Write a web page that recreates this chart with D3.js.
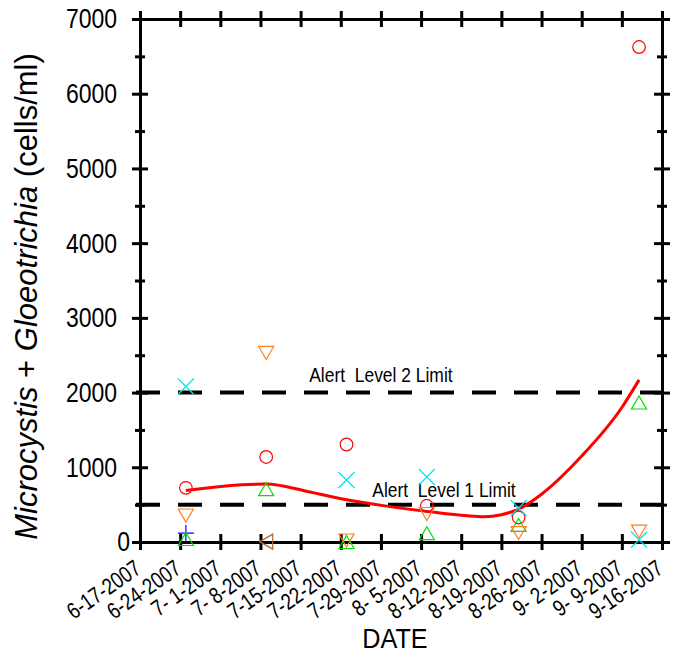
<!DOCTYPE html>
<html>
<head>
<meta charset="utf-8">
<script src="https://cdn.jsdelivr.net/npm/d3@7"></script>
<style>
  body { margin: 0; background: #fff; }
  text { font-family: "Liberation Sans", Arial, sans-serif; fill: #000; }
</style>
</head>
<body>
<div id="chart"></div>
<script>
// sampling dates
var sampleDates = ["2007-06-25", "2007-07-09", "2007-07-23", "2007-08-06", "2007-08-22", "2007-09-12"];

// one array per symbol (cells/ml), null = no point
var circleVals  = [725, 1138, 1305, 485, 328, 6625];
var triUpVals   = [40, 707, 0, 118, 228, 1867];
var triDownVals = [355, 2530, 20, 375, 120, 140];
var crossVals   = [2081, null, 830, 870, 455, 30];
var plusVals    = [120, null, null, null, null, null];
var triLeftVals = [null, 5, null, null, null, null];

// smoothed trend (red line)
var fitDates = ["2007-06-25", "2007-07-02", "2007-07-09", "2007-07-16", "2007-07-23", "2007-07-30",
                "2007-08-06", "2007-08-13", "2007-08-16", "2007-08-19", "2007-08-22", "2007-08-26",
                "2007-09-02", "2007-09-09", "2007-09-12"];
var fitVals  = [690, 750, 775, 680, 565, 480, 410, 350, 338, 365, 440, 640, 1150, 1800, 2170];

// alert limits
var alertLimits = [2000, 500];
var alertLabels = ["Alert  Level 2 Limit", "Alert  Level 1 Limit"];
var alertLabelDates = ["2007-07-29", "2007-08-09"];

// axis ticks
var xTickLabels = ["6-17-2007", "6-24-2007", "7- 1-2007", "7- 8-2007", "7-15-2007", "7-22-2007", "7-29-2007",
                   "8- 5-2007", "8-12-2007", "8-19-2007", "8-26-2007", "9- 2-2007", "9- 9-2007", "9-16-2007"];
var yTicks = [0, 1000, 2000, 3000, 4000, 5000, 6000, 7000];
var yMinorTicks = [500, 1500, 2500, 3500, 4500, 5500, 6500];

var parseDate = d3.timeParse("%Y-%m-%d");
var parseTick = d3.timeParse("%m-%d-%Y");
var tickDates = xTickLabels.map(function(s) { return parseTick(s.replace(/ /g, "")); });

var W = 686, H = 658;
var margin = {top: 19, right: 24, bottom: 116, left: 140};
var width = W - margin.left - margin.right,
    height = H - margin.top - margin.bottom;

var svg = d3.select("#chart").append("svg")
    .attr("width", W).attr("height", H);
var g = svg.append("g")
    .attr("transform", "translate(" + margin.left + "," + margin.top + ")");

var x = d3.scaleTime()
    .domain([tickDates[0], tickDates[tickDates.length - 1]])
    .range([0, width]);
var y = d3.scaleLinear()
    .domain([0, 7000])
    .range([height, 0]);

// squeeze text horizontally (original used a narrow face)
function squeeze(sel, k) {
  sel.each(function() {
    var L = this.getComputedTextLength();
    d3.select(this).attr("textLength", L * k).attr("lengthAdjust", "spacingAndGlyphs");
  });
}

function styleAxis(ax, a, b, horiz) {
  ax.select(".domain").attr("stroke", "#000").attr("stroke-width", 3);
  ax.selectAll(".tick line").attr("stroke", "#000").attr("stroke-width", 3);
  if (horiz) ax.selectAll(".tick line").attr("y1", a).attr("y2", b);
  else ax.selectAll(".tick line").attr("x1", a).attr("x2", b);
}

// alert limit lines
alertLimits.forEach(function(v, i) {
  g.append("line")
    .attr("x1", x.range()[0] - 4).attr("x2", x.range()[1])
    .attr("y1", y(v)).attr("y2", y(v))
    .attr("stroke", "#000").attr("stroke-width", 4)
    .attr("stroke-dasharray", "24 18");
  var t = g.append("text")
    .attr("x", x(parseDate(alertLabelDates[i])))
    .attr("y", y(v))
    .attr("dy", i === 0 ? -11 : -8)
    .attr("text-anchor", "middle")
    .style("font-size", "21px")
    .style("white-space", "pre")
    .text(alertLabels[i]);
  squeeze(t, 0.83);
});

// bottom axis
var xb = g.append("g").attr("transform", "translate(0," + height + ")")
  .call(d3.axisBottom(x).tickValues(tickDates).tickSizeOuter(0)
    .tickFormat(function(d, i) { return xTickLabels[i]; }));
styleAxis(xb, -8, 8, true);
xb.selectAll(".tick text")
  .attr("y", 0).attr("dy", 0)
  .attr("transform", "translate(2,30) rotate(-35)")
  .attr("text-anchor", "end")
  .style("font-size", "23px")
  .style("white-space", "pre")
  .style("font-family", '"Liberation Sans", Arial, sans-serif');
squeeze(xb.selectAll(".tick text"), 0.8);

// top axis
var xt = g.append("g")
  .call(d3.axisTop(x).tickValues(tickDates).tickSizeOuter(0).tickFormat(""));
styleAxis(xt, -8, 8, true);

// left axis
var yl = g.append("g")
  .call(d3.axisLeft(y).tickValues(yTicks).tickSizeOuter(0).tickFormat(d3.format("d")));
styleAxis(yl, -8, 8, false);
yl.selectAll(".tick text")
  .attr("x", function(d) { return d === 0 ? -10 : -23; })
  .style("font-size", "28px")
  .style("font-family", '"Liberation Sans", Arial, sans-serif');
squeeze(yl.selectAll(".tick text"), 0.82);
var ylm = g.append("g")
  .call(d3.axisLeft(y).tickValues(yMinorTicks).tickSizeOuter(0).tickFormat(""));
styleAxis(ylm, -5, 5, false);
ylm.select(".domain").remove();

// right axis
var yr = g.append("g").attr("transform", "translate(" + width + ",0)")
  .call(d3.axisRight(y).tickValues(yTicks).tickSizeOuter(0).tickFormat(""));
styleAxis(yr, -8, 8, false);
var yrm = g.append("g").attr("transform", "translate(" + width + ",0)")
  .call(d3.axisRight(y).tickValues(yMinorTicks).tickSizeOuter(0).tickFormat(""));
styleAxis(yrm, -5, 5, false);
yrm.select(".domain").remove();

// trend line
var fit = fitDates.map(function(d, i) { return [parseDate(d), fitVals[i]]; });
g.append("path")
  .datum(fit)
  .attr("fill", "none")
  .attr("stroke", "#ff0000")
  .attr("stroke-width", 3)
  .attr("d", d3.line()
    .curve(d3.curveMonotoneX)
    .x(function(d) { return x(d[0]); })
    .y(function(d) { return y(d[1]); }));

// marker shapes
var shapes = {
  circle:  "M6.3,0A6.3,6.3 0 1,1 -6.3,0A6.3,6.3 0 1,1 6.3,0Z",
  triUp:   "M0,-6.5L7.5,6.5L-7.5,6.5Z",
  triDown: "M0,6.5L7.5,-6.5L-7.5,-6.5Z",
  triLeft: "M-6.5,0L6.5,-7.5L6.5,7.5Z",
  cross:   "M-8,-8L8,8M-8,8L8,-8",
  plus:    "M-8,0L8,0M0,-8L0,8"
};
var series = [
  {vals: circleVals,  shape: "circle",  color: "#ff0000"},
  {vals: triLeftVals, shape: "triLeft", color: "#b06a28"},
  {vals: plusVals,    shape: "plus",    color: "#0000ff"},
  {vals: crossVals,   shape: "cross",   color: "#00e5ee"},
  {vals: triUpVals,   shape: "triUp",   color: "#00e000"},
  {vals: triDownVals, shape: "triDown", color: "#ff7f1e"}
];
series.forEach(function(s) {
  var pts = sampleDates.map(function(d, i) { return {date: parseDate(d), v: s.vals[i]}; })
    .filter(function(p) { return p.v !== null; });
  g.selectAll(null).data(pts).enter().append("path")
    .attr("transform", function(p) { return "translate(" + x(p.date) + "," + y(p.v) + ")"; })
    .attr("d", shapes[s.shape])
    .attr("fill", "none")
    .attr("stroke", s.color)
    .attr("stroke-width", 1.2);
});

// axis titles
var xt2 = svg.append("text")
  .attr("x", margin.left + width / 2 - 6)
  .attr("y", 648)
  .attr("text-anchor", "middle")
  .style("font-size", "28px")
  .text("DATE");
squeeze(xt2, 0.9);

var yt = svg.append("text")
  .attr("transform", "translate(37," + (margin.top + height / 2 + 16) + ") rotate(-90)")
  .attr("text-anchor", "middle")
  .style("font-size", "31px");
yt.append("tspan").style("font-style", "italic").text("Microcystis");
yt.append("tspan").text(" + ");
yt.append("tspan").style("font-style", "italic").text("Gloeotrichia");
yt.append("tspan").text(" (cells/ml)");
</script>
</body>
</html>
